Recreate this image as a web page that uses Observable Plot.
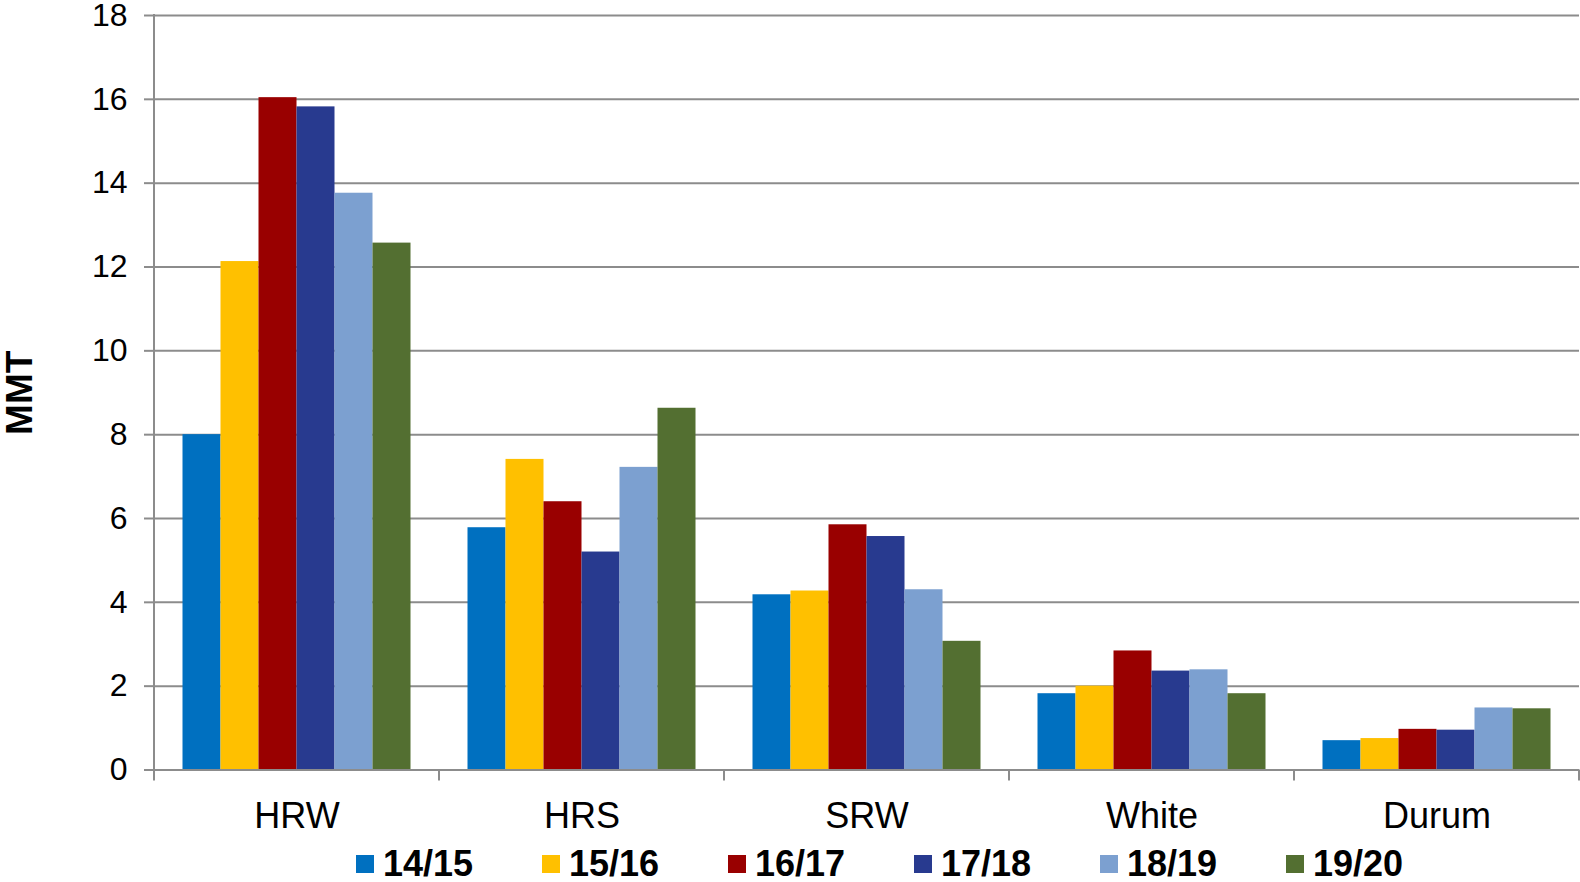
<!DOCTYPE html>
<html><head><meta charset="utf-8">
<script src="https://cdn.jsdelivr.net/npm/d3@7"></script>
<script src="https://cdn.jsdelivr.net/npm/@observablehq/plot@0.6"></script>
<style>
body{margin:0;background:#fff;font-family:"Liberation Sans",Arial,sans-serif;}
#chart svg{display:block;overflow:visible;}
#legend{display:flex;align-items:center;height:48px;padding-top:12px;padding-left:356px;box-sizing:border-box;}
.item{display:flex;align-items:center;width:186px;flex:none;}
.sw{width:18px;height:18px;margin-right:9px;flex:none;}
.lab{font-weight:bold;font-size:36px;color:#000;line-height:1;}
</style></head><body>
<div id="chart"></div>
<div id="legend"></div>
<script>
const categories = ["HRW", "HRS", "SRW", "White", "Durum"];
const years = ["14/15", "15/16", "16/17", "17/18", "18/19", "19/20"];
const colors = ["#0070C0", "#FFC000", "#990000", "#283A8F", "#7CA0D0", "#536F31"];
const y1415 = [8.0, 5.78, 4.18, 1.82, 0.70];
const y1516 = [12.13, 7.41, 4.27, 2.0, 0.75];
const y1617 = [16.04, 6.40, 5.85, 2.84, 0.97];
const y1718 = [15.82, 5.20, 5.57, 2.36, 0.95];
const y1819 = [13.76, 7.22, 4.30, 2.39, 1.48];
const y1920 = [12.57, 8.63, 3.07, 1.82, 1.46];
const yTicks = [0, 2, 4, 6, 8, 10, 12, 14, 16, 18];

const series = [y1415, y1516, y1617, y1718, y1819, y1920];
const data = [];
categories.forEach((c, i) => years.forEach((yr, j) => data.push({category: c, year: yr, value: series[j][i]})));

const grid = "#8c8c8c";
const plot = Plot.plot({
  width: 1580, height: 834,
  marginTop: 15, marginBottom: 64.5, marginLeft: 153.5, marginRight: 1,
  style: {fontFamily: "'Liberation Sans', Arial, sans-serif", background: "#fff", color: "#000", overflow: "visible"},
  fx: {domain: categories, padding: 0, label: null},
  x: {domain: years, paddingInner: 0, paddingOuter: 0.75, axis: null},
  y: {domain: [0, 18], label: null},
  color: {domain: years, range: colors},
  marks: [
    Plot.gridY(yTicks, {stroke: grid, strokeOpacity: 1, strokeWidth: 2}),
    Plot.barY(data, {fx: "category", x: "year", y: "value", fill: "year", inset: 0}),
    Plot.ruleY([0], {stroke: grid, strokeWidth: 2}),
    Plot.axisY(yTicks, {tickSize: 10, tickPadding: 17, fontSize: 32, stroke: grid, strokeWidth: 2, fill: "#000",
      label: "MMT", labelAnchor: "center", labelOffset: 149, labelArrow: "none"}),
    Plot.axisFx({anchor: "bottom", tickSize: 0, tickPadding: 32, fontSize: 36, fill: "#000", label: null})
  ]
});
document.getElementById("chart").appendChild(plot);

// style the y-axis title
d3.select(plot).selectAll("text").filter(function(){ return this.textContent === "MMT"; })
  .attr("font-weight", "bold").attr("font-size", 37);

// category boundary ticks and left axis line, positioned through the scales
const fx = plot.scale("fx"), ys = plot.scale("y");
const y0 = ys.apply(0), yTop = ys.apply(18);
const bounds = categories.map(c => fx.apply(c)).concat([fx.apply(categories[categories.length - 1]) + fx.bandwidth]);
const g = d3.select(plot).append("g").attr("stroke", grid).attr("stroke-width", 2);
g.selectAll("line.b").data(bounds).join("line").attr("class", "b")
  .attr("x1", d => d).attr("x2", d => d).attr("y1", y0).attr("y2", y0 + 11);
g.append("line").attr("x1", bounds[0]).attr("x2", bounds[0]).attr("y1", yTop - 1).attr("y2", y0);

const legend = d3.select("#legend");
years.forEach((yr, j) => {
  const it = legend.append("div").attr("class", "item");
  it.append("div").attr("class", "sw").style("background", colors[j]);
  it.append("div").attr("class", "lab").text(yr);
});
</script>
</body></html>
